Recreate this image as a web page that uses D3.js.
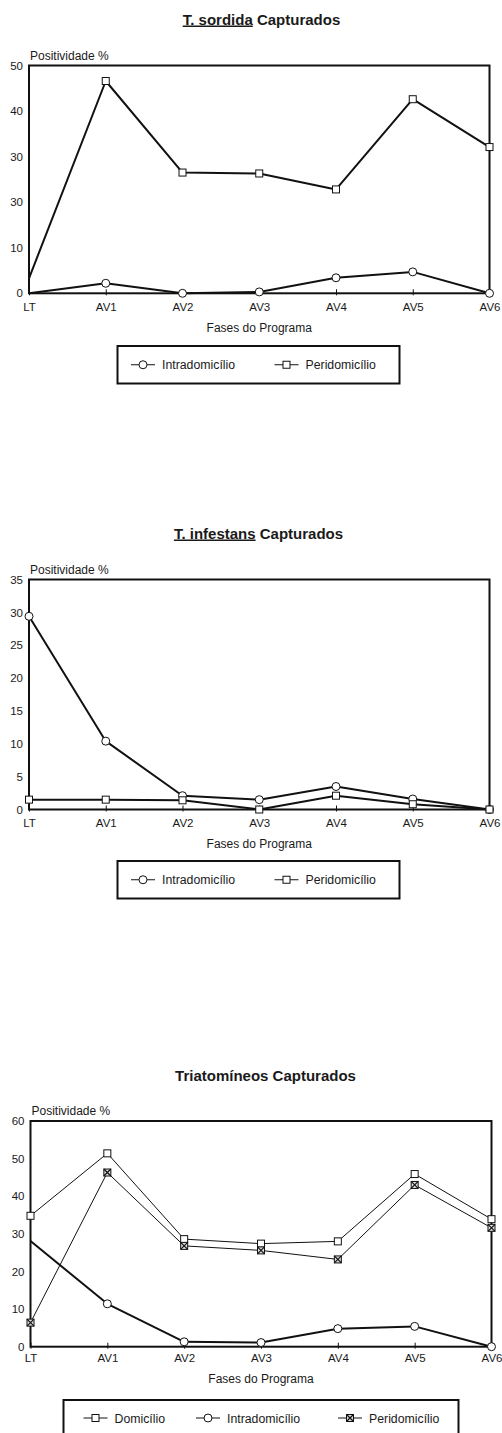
<!DOCTYPE html>
<html><head><meta charset="utf-8">
<script src="https://cdn.jsdelivr.net/npm/d3@7"></script>
<style>
body{margin:0;background:#fff}
svg{display:block}
text{font-family:"Liberation Sans",Arial,Helvetica,sans-serif;fill:#1a1a1a}
</style>
</head><body>
<svg id="c" width="502" height="1433"></svg>
<script>
// ---- data ----
const phases = ["LT","AV1","AV2","AV3","AV4","AV5","AV6"];

const sordidaIntra = [0, 2.2, 0, 0.3, 3.4, 4.7, 0];
const sordidaPeri  = [3.3, 46.6, 26.5, 26.3, 22.8, 42.6, 32.1];
const sordidaTicks = [0, 10, 20, 30, 40, 50];
const sordidaTickLabels = ["0", "10", "30", "30", "40", "50"];

const infestansIntra = [29.4, 10.4, 2.1, 1.5, 3.5, 1.6, 0];
const infestansPeri  = [1.5, 1.5, 1.4, 0, 2.1, 0.8, 0];
const infestansTicks = [0, 5, 10, 15, 20, 25, 30, 35];
const infestansTickLabels = ["0", "5", "10", "15", "20", "25", "30", "35"];

const triatDomi  = [34.8, 51.4, 28.6, 27.4, 28.0, 45.9, 33.9];
const triatIntra = [28.1, 11.4, 1.3, 1.1, 4.8, 5.4, 0];
const triatPeri  = [6.4, 46.3, 26.8, 25.6, 23.2, 43.0, 31.6];
const triatTicks = [0, 10, 20, 30, 40, 50, 60];
const triatTickLabels = ["0", "10", "20", "30", "40", "50", "60"];

const yTitle = "Positividade %";
const xTitle = "Fases do Programa";

// ---- drawing ----
const svg = d3.select("#c");

function marker(g, type, cx, cy) {
  if (type === "circle") {
    g.append("circle").attr("cx", cx).attr("cy", cy).attr("r", 4)
      .attr("fill", "#fff").attr("stroke", "#111").attr("stroke-width", 1);
  } else {
    const s = 7;
    g.append("rect").attr("x", cx - s/2).attr("y", cy - s/2).attr("width", s).attr("height", s)
      .attr("fill", type === "xsquare" ? "#ddd" : "#fff").attr("stroke", "#111").attr("stroke-width", 1);
    if (type === "xsquare") {
      g.append("path").attr("d", `M${cx-s/2},${cy-s/2}L${cx+s/2},${cy+s/2}M${cx+s/2},${cy-s/2}L${cx-s/2},${cy+s/2}`)
        .attr("stroke", "#111").attr("stroke-width", 1.2);
    }
  }
}

function drawChart(cfg) {
  const g = svg.append("g");
  const x = d3.scalePoint().domain(phases).range([cfg.left, cfg.right]);
  const y = d3.scaleLinear().domain([0, cfg.max]).range([cfg.bottom, cfg.top]);

  // title
  const t = g.append("text").attr("x", cfg.titleX).attr("y", cfg.titleY)
    .attr("text-anchor", "middle").attr("font-size", 15).attr("font-weight", "bold");
  if (cfg.titleU) t.append("tspan").attr("text-decoration", "underline").text(cfg.titleU);
  t.append("tspan").text(cfg.titleRest);

  // y title
  g.append("text").attr("x", cfg.left + 1).attr("y", cfg.top - 6)
    .attr("font-size", 12).text(yTitle);

  // y axis
  const ya = g.append("g").attr("transform", `translate(${cfg.left},0)`)
    .call(d3.axisLeft(y).tickValues(cfg.ticks).tickFormat((d, i) => cfg.tickLabels[i])
      .tickSize(0).tickPadding(6));
  ya.select(".domain").remove();
  ya.selectAll("text").attr("font-size", 11.5).attr("font-family", null).attr("fill", "#1a1a1a");

  // x axis
  const xa = g.append("g").attr("transform", `translate(0,${cfg.bottom})`)
    .call(d3.axisBottom(x).tickSizeInner(-4).tickSizeOuter(0).tickPadding(cfg.xPad));
  xa.select(".domain").remove();
  xa.selectAll("line").attr("stroke", "#111").attr("y2", -4).attr("y1", 2);
  xa.selectAll("text").attr("font-size", 11.5).attr("font-family", null).attr("fill", "#1a1a1a");

  g.append("text").attr("x", (cfg.left + cfg.right) / 2).attr("y", cfg.bottom + cfg.xTitleOff)
    .attr("text-anchor", "middle").attr("font-size", 12).text(xTitle);

  // frame
  g.append("rect").attr("x", cfg.left).attr("y", cfg.top)
    .attr("width", cfg.right - cfg.left).attr("height", cfg.bottom - cfg.top)
    .attr("fill", "none").attr("stroke", "#111").attr("stroke-width", 2);

  // series
  const line = d3.line().x((d, i) => x(phases[i])).y(d => y(d));
  cfg.series.forEach(s => {
    g.append("path").datum(s.values).attr("d", line)
      .attr("fill", "none").attr("stroke", "#111").attr("stroke-width", s.width)
      .attr("stroke-linejoin", "round");
  });
  cfg.series.forEach(s => {
    s.values.forEach((v, i) => {
      if (s.skip && s.skip.includes(i)) return;
      marker(g, s.marker, x(phases[i]), y(v));
    });
  });

  // legend
  const L = cfg.legend;
  g.append("rect").attr("x", L.x).attr("y", L.y).attr("width", L.w).attr("height", L.h)
    .attr("fill", "#fff").attr("stroke", "#111").attr("stroke-width", 2);
  const ly = L.y + L.h / 2;
  const legY = cfg.legendMid !== undefined ? cfg.legendMid : ly;
  cfg.series.slice().sort((a, b) => a.legendOrder - b.legendOrder).forEach((s, k) => {
    const x0 = L.items[k];
    g.append("line").attr("x1", x0).attr("x2", x0 + 24).attr("y1", legY).attr("y2", legY)
      .attr("stroke", "#111").attr("stroke-width", 1);
    marker(g, s.marker, x0 + 12, legY);
    g.append("text").attr("x", x0 + 31).attr("y", legY + 4.5).attr("font-size", 12.3).text(s.name);
  });
}

drawChart({
  left: 29, right: 489.5, top: 65.5, bottom: 293.3, max: 50,
  ticks: sordidaTicks, tickLabels: sordidaTickLabels,
  titleX: 261.5, titleY: 24.5, titleU: "T. sordida", titleRest: " Capturados",
  xPad: 9.5, xTitleOff: 39,
  series: [
    {name: "Intradomicílio", values: sordidaIntra, marker: "circle", width: 2, legendOrder: 0, skip: [0]},
    {name: "Peridomicílio", values: sordidaPeri, marker: "square", width: 2, legendOrder: 1, skip: [0]}
  ],
  legend: {x: 117.5, y: 346, w: 282, h: 37.5, items: [131, 274.5]}
});

drawChart({
  left: 29, right: 489.5, top: 579.5, bottom: 809.5, max: 35,
  ticks: infestansTicks, tickLabels: infestansTickLabels,
  titleX: 258.5, titleY: 538.5, titleU: "T. infestans", titleRest: " Capturados",
  xPad: 9.5, xTitleOff: 38,
  series: [
    {name: "Intradomicílio", values: infestansIntra, marker: "circle", width: 2, legendOrder: 0},
    {name: "Peridomicílio", values: infestansPeri, marker: "square", width: 2, legendOrder: 1}
  ],
  legend: {x: 117.5, y: 861, w: 282, h: 37.5, items: [131, 274.5]}
});

drawChart({
  left: 30.5, right: 491.5, top: 1121, bottom: 1346.7, max: 60,
  ticks: triatTicks, tickLabels: triatTickLabels,
  titleX: 265.5, titleY: 1080.5, titleU: null, titleRest: "Triatomíneos Capturados",
  xPad: 7.5, xTitleOff: 36,
  series: [
    {name: "Domicílio", values: triatDomi, marker: "square", width: 1, legendOrder: 0},
    {name: "Intradomicílio", values: triatIntra, marker: "circle", width: 2, legendOrder: 1, skip: [0]},
    {name: "Peridomicílio", values: triatPeri, marker: "xsquare", width: 1, legendOrder: 2}
  ],
  legend: {x: 63.5, y: 1400, w: 395, h: 45, items: [83.5, 196, 338]},
  legendMid: 1418
});
</script>
</body></html>
